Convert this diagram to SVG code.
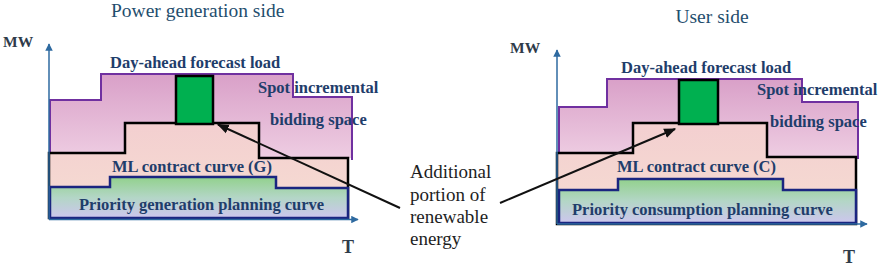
<svg xmlns="http://www.w3.org/2000/svg" width="886" height="271" viewBox="0 0 886 271">
<style>
.title{font-family:"Liberation Serif","Times New Roman",serif;font-size:19.5px;fill:#1f4e6e}
.lbl{font-family:"Liberation Serif","Times New Roman",serif;font-size:16.5px;font-weight:bold;fill:#1f3d6b}
.ax{font-family:"Liberation Serif","Times New Roman",serif;font-weight:bold;fill:#2f3b4a}
.note{font-family:"Liberation Serif","Times New Roman",serif;font-size:19px;fill:#1e1e1e}
.axis{stroke:#2e6aa0;stroke-width:1.5;fill:none}
.purple{fill:url(#gPurple);stroke:none}
.pborder{fill:none;stroke:#7030a0;stroke-width:2}
.peach{fill:url(#gPeach);stroke:#000;stroke-width:2.5;stroke-linejoin:miter}
.blue{fill:url(#gBlue);stroke:#1a2580;stroke-width:2.5}
.green{fill:#00b050;stroke:#000;stroke-width:2.5}
.conn{stroke:#111;stroke-width:2;fill:none}
</style>
<defs>
<linearGradient id="gPurple" x1="0" y1="0" x2="0" y2="1">
<stop offset="0" stop-color="#d9a0c8"/>
<stop offset="1" stop-color="#eecde2"/>
</linearGradient>
<linearGradient id="gPeach" x1="0" y1="0" x2="0" y2="1">
<stop offset="0" stop-color="#f3cfd0"/>
<stop offset="1" stop-color="#f6ddd2"/>
</linearGradient>
<linearGradient id="gBlue" x1="0" y1="0" x2="0" y2="1">
<stop offset="0" stop-color="#92d18c"/>
<stop offset="0.5" stop-color="#b3d6c6"/>
<stop offset="1" stop-color="#cdc6ee"/>
</linearGradient>
<marker id="axArrow" viewBox="0 0 10 10" refX="9" refY="5" markerWidth="5" markerHeight="5" orient="auto" markerUnits="strokeWidth">
<path d="M0,0 L10,5 L0,10 Z" fill="#2e6aa0"/>
</marker>
<marker id="blkArrow" viewBox="0 0 10 10" refX="9" refY="5" markerWidth="6" markerHeight="6" orient="auto" markerUnits="strokeWidth">
<path d="M0,1 L10,5 L0,9 Z" fill="#111"/>
</marker>
</defs>

<rect width="886" height="271" fill="#fff"/>

<g id="left-chart">
<text class="title" x="111" y="17">Power generation side</text>
<text class="ax" x="3" y="47" font-size="15.5">MW</text>
<path class="purple" d="M50,158 V100 H101 V74 H293 V97 H352 V158 Z"/>
<path class="pborder" d="M50,158 V100 H101 V74 H293 V97 H352 V160"/>
<path class="peach" d="M49,218 V153 H125 V123 H259 V158 H348 V218 Z"/>
<path class="blue" d="M50,218 V187 H110 V177 H276 V188 H348 V218 Z"/>
<rect class="green" x="176" y="76" width="37" height="48"/>
<line class="axis" x1="49" y1="219" x2="49" y2="44" marker-end="url(#axArrow)"/>
<line class="axis" x1="49" y1="219.5" x2="358" y2="219.5" marker-end="url(#axArrow)"/>
<text class="lbl" x="110" y="68">Day-ahead forecast load</text>
<text class="lbl" x="258" y="93">Spot incremental</text>
<text class="lbl" x="270" y="125">bidding space</text>
<text class="lbl" x="112" y="172">ML contract curve (G)</text>
<text class="lbl" x="79" y="210">Priority generation planning curve</text>
<text class="ax" x="342" y="253" font-size="18">T</text>
</g>

<g id="right-chart">
<text class="title" x="712" y="23" text-anchor="middle">User side</text>
<text class="ax" x="510" y="53" font-size="15.5">MW</text>
<path class="purple" d="M559,157 V107 H607 V79 H802 V102 H858 V157 Z"/>
<path class="pborder" d="M559,157 V107 H607 V79 H802 V102 H858 V159"/>
<path class="peach" d="M557,224 V153 H633 V123 H767 V157 H856 V224 Z"/>
<path class="blue" d="M559,223 V190 H618 V179 H783 V190 H856 V223 Z"/>
<rect class="green" x="679" y="80" width="39" height="44"/>
<line class="axis" x1="557" y1="224" x2="557" y2="50" marker-end="url(#axArrow)"/>
<line class="axis" x1="557" y1="224" x2="867" y2="224" marker-end="url(#axArrow)"/>
<text class="lbl" x="621" y="73">Day-ahead forecast load</text>
<text class="lbl" x="757" y="95">Spot incremental</text>
<text class="lbl" x="770" y="127">bidding space</text>
<text class="lbl" x="617" y="172">ML contract curve (C)</text>
<text class="lbl" x="572" y="215">Priority consumption planning curve</text>
<text class="ax" x="843" y="263" font-size="18">T</text>
</g>

<g id="note">
<text class="note" x="410" y="178">Additional</text>
<text class="note" x="410" y="201">portion of</text>
<text class="note" x="410" y="223">renewable</text>
<text class="note" x="410" y="245">energy</text>
</g>

<g id="connectors">
<line class="conn" x1="400" y1="208" x2="218" y2="124.5" marker-end="url(#blkArrow)"/>
<line class="conn" x1="500" y1="203" x2="675" y2="129" stroke-width="2.5" marker-end="url(#blkArrow)"/>
</g>
</svg>
